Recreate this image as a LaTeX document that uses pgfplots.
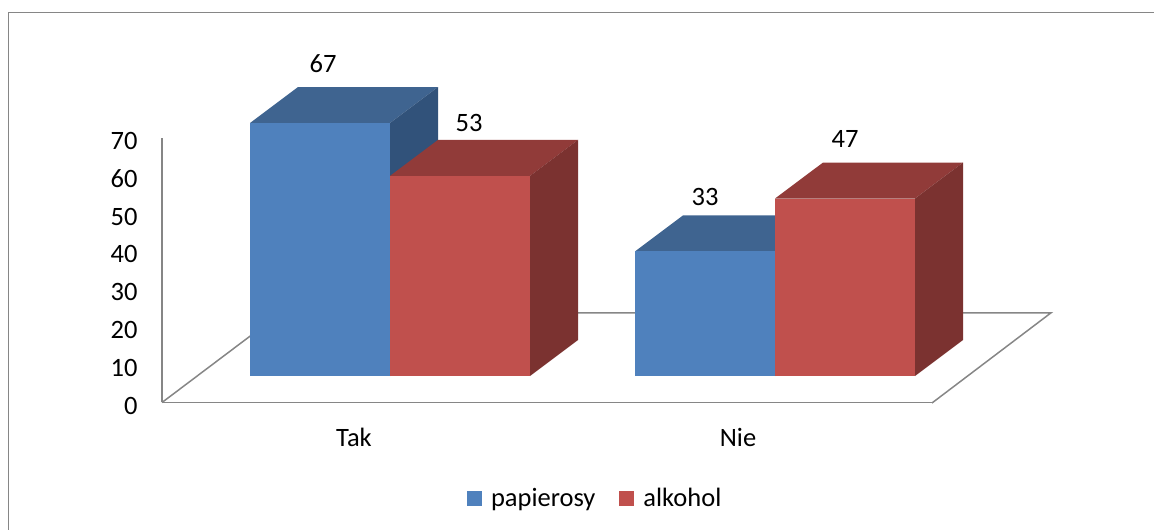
\documentclass[border=0pt]{standalone}
\usepackage{pgfplots}
\pgfplotsset{compat=1.18}
\usepackage{fontspec}
\setmainfont{Carlito}
\definecolor{frameg}{HTML}{868686}
\definecolor{bluef}{HTML}{4F81BD}
\definecolor{bluet}{HTML}{3F6490}
\definecolor{blues}{HTML}{31527A}
\definecolor{redf}{HTML}{C0504D}
\definecolor{redt}{HTML}{913B39}
\definecolor{reds}{HTML}{7B3230}
\newcommand{\chartfont}{\fontsize{26.5}{31}\selectfont}
\begin{document}
\begin{tikzpicture}
\useasboundingbox (0,0) rectangle (1154pt,530pt);
% back plane: axes, ticks, floor
\begin{axis}[
  at={(162pt,127.5pt)}, anchor=south west,
  scale only axis, width=770pt, height=264.5pt,
  xmin=162, xmax=932, ymin=0, ymax=70,
  axis x line=bottom, axis y line=left,
  axis line style={frameg, line width=1.9pt, -},
  xtick={354,738}, xticklabels={Tak,Nie},
  ytick={0,10,...,70},
  major tick length=0pt,
  tick label style={font=\chartfont, text=black},
  /pgf/number format/assume math mode=true,
  y tick label style={xshift=-21pt, yshift=-3pt},
  x tick label style={yshift=-22pt},
  clip=false,
]
\addplot[frameg, line width=1.5pt, forget plot] coordinates {(162,0) (281,23.73) (1051,23.73) (932,-0.13)};
\end{axis}
% bars: x in chart position, y = value on the front plane
\begin{axis}[
  at={(0pt,0pt)}, anchor=south west,
  scale only axis, width=1154pt, height=530pt,
  xmin=0, xmax=1154, ymin=-40.78, ymax=99.58,
  hide axis, clip=false,
  legend style={at={(axis cs:467,-32.4)}, anchor=west, draw=none, fill=none,
    font=\chartfont, inner sep=0pt, outer sep=0pt,
    /tikz/every even column/.append style={column sep=22pt}},
  legend columns=2,
  legend image code/.code={\path[#1, draw=none] (0pt,-7.5pt) rectangle (15pt,7.5pt); \path[draw=none, fill=none] (0pt,0pt) -- (22pt,0pt);},
]
\draw[frameg, line width=1.9pt] (axis cs:8.5,-40.78) -- (axis cs:8.5,96.27) -- (axis cs:1154,96.27);
% Tak, papierosy = 67
\addplot[fill=bluet, draw=none, forget plot] coordinates {(250,67) (298,76.53) (438,76.53) (390,67)} -- cycle;
\addplot[fill=blues, draw=none, forget plot] coordinates {(390,0) (438,9.53) (438,76.53) (390,67)} -- cycle;
\addplot[fill=bluef, draw=none, forget plot] coordinates {(250,0) (390,0) (390,67) (250,67)} -- cycle;
% Tak, alkohol = 53
\addplot[fill=redt, draw=none, forget plot] coordinates {(390,53) (438,62.53) (578,62.53) (530,53)} -- cycle;
\addplot[fill=reds, draw=none, forget plot] coordinates {(530,0) (578,9.53) (578,62.53) (530,53)} -- cycle;
\addplot[fill=redf, draw=none, forget plot] coordinates {(390,0) (530,0) (530,53) (390,53)} -- cycle;
% Nie, papierosy = 33
\addplot[fill=bluet, draw=none, forget plot] coordinates {(635,33) (683,42.53) (823,42.53) (775,33)} -- cycle;
\addplot[fill=blues, draw=none, forget plot] coordinates {(775,0) (823,9.53) (823,42.53) (775,33)} -- cycle;
\addplot[fill=bluef, draw=none, forget plot] coordinates {(635,0) (775,0) (775,33) (635,33)} -- cycle;
% Nie, alkohol = 47
\addplot[fill=redt, draw=none, forget plot] coordinates {(775,47) (823,56.53) (963,56.53) (915,47)} -- cycle;
\addplot[fill=reds, draw=none, forget plot] coordinates {(915,0) (963,9.53) (963,56.53) (915,47)} -- cycle;
\addplot[fill=redf, draw=none, forget plot] coordinates {(775,0) (915,0) (915,47) (775,47)} -- cycle;
\node[font=\chartfont] at (axis cs:323,82.6) {67};
\node[font=\chartfont] at (axis cs:469,67.0) {53};
\node[font=\chartfont] at (axis cs:705,47.4) {33};
\node[font=\chartfont] at (axis cs:845,62.8) {47};
\addlegendimage{fill=bluef}
\addlegendentry{papierosy}
\addlegendimage{fill=redf}
\addlegendentry{alkohol}
\end{axis}
\end{tikzpicture}
\end{document}
